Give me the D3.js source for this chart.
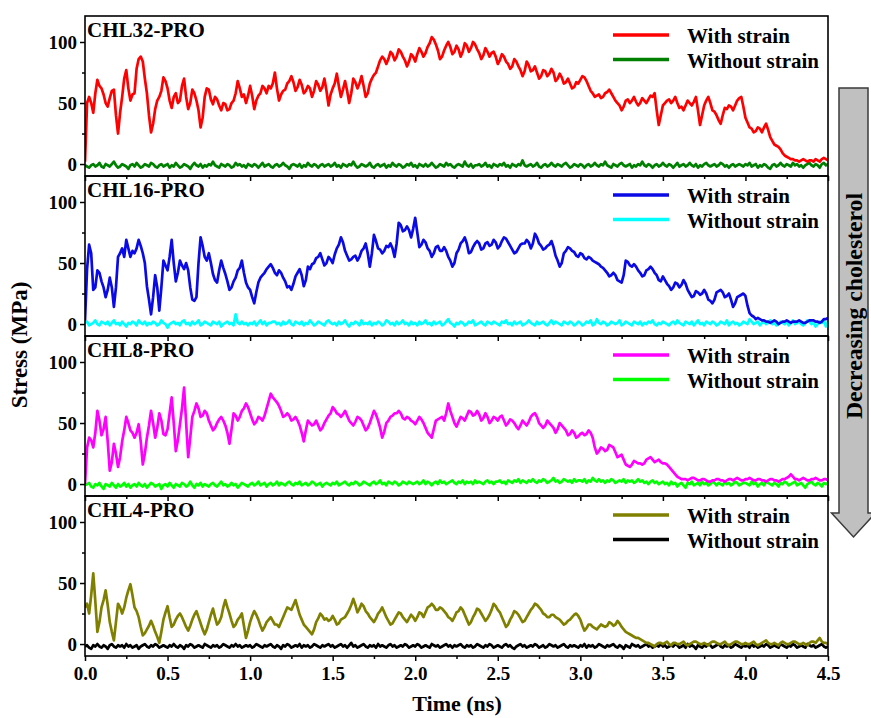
<!DOCTYPE html>
<html>
<head>
<meta charset="utf-8">
<script src="https://cdn.jsdelivr.net/npm/d3@7"></script>
<style>
  body { margin: 0; background: #fff; }
  svg text { font-family: "Times New Roman", "Liberation Serif", serif; font-weight: bold; fill: #000; }
</style>
</head>
<body>
<svg id="chart" width="871" height="718"></svg>
<script>
// Every trace is sampled evenly from 0 to 4.5 ns (0.0125 ns apart)
const timeEnd = 4.5;
const xMajorTicks = [0, 0.5, 1.0, 1.5, 2.0, 2.5, 3.0, 3.5, 4.0, 4.5];
const xMinorTicks = [0.25, 0.75, 1.25, 1.75, 2.25, 2.75, 3.25, 3.75, 4.25];
const yMajorTicks = [0, 50, 100];
const yMinorTicks = [25, 75];

const systems = ["CHL32-PRO", "CHL16-PRO", "CHL8-PRO", "CHL4-PRO"];
const seriesNames = ["With strain", "Without strain"];
const withColors = ["#ff0000", "#0a0ae6", "#ff00ff", "#808000"];
const withoutColors = ["#008000", "#00ffff", "#00ff00", "#000000"];

// Stress (MPa) with applied strain
const chl32With = [
  2,50,55,50,42,58,69,64,62,57,50,47,54,60,61,40,25,42,55,70,77,62,52,57,58,78,86,88,84,70,58,40,26,33,45,52,55,60,71,68,
  62,52,46,55,58,50,52,64,70,55,45,50,61,58,52,44,30,38,55,62,61,53,49,55,53,48,44,50,49,44,45,50,52,58,68,62,55,57,50,56,
  64,56,45,52,56,58,64,62,58,64,62,66,75,62,52,57,60,61,66,68,72,67,60,63,69,65,58,60,64,62,55,60,68,65,60,63,70,60,48,57,
  62,66,74,64,55,61,68,60,50,58,70,67,62,66,72,64,55,58,66,70,73,75,80,85,88,86,82,86,92,90,85,88,94,92,88,85,80,84,90,88,
  84,90,95,92,88,91,96,99,104,102,98,93,86,88,93,97,100,96,90,92,97,94,88,92,99,97,92,95,100,98,94,91,86,89,95,92,88,91,92,88,
  82,85,90,88,84,82,78,80,86,84,80,77,72,76,84,81,76,77,80,75,70,72,77,76,72,74,78,75,68,70,74,71,66,67,70,66,62,63,67,66,
  69,72,71,68,64,60,58,55,56,57,54,55,58,59,61,58,55,52,50,48,44,47,52,53,50,52,55,51,48,50,54,52,50,53,56,55,58,44,32,40,
  48,50,52,53,50,52,55,50,46,47,44,48,52,50,48,51,55,44,32,40,48,52,55,50,44,43,40,36,33,40,46,45,48,47,44,48,52,54,55,47,
  38,34,30,29,26,27,30,29,26,30,33,28,22,19,16,15,14,12,9,7,6,5,4,4,3,3,2,3,4,3,2,3,3,2,4,3,2,4,5,4,3
];
const chl16With = [
  3,45,65,58,28,30,44,42,35,30,22,28,38,30,14,30,55,58,62,55,69,62,55,60,58,62,69,64,58,50,31,20,8,22,40,30,11,30,52,48,
  44,55,69,50,35,42,52,48,45,50,44,30,20,19,22,50,71,64,55,52,58,50,41,36,34,44,52,46,41,35,28,30,35,38,44,46,52,42,34,30,
  28,22,17,26,34,38,40,42,45,47,49,46,42,40,44,42,38,35,30,31,28,33,39,42,45,40,31,36,47,45,49,50,54,55,58,53,48,50,55,53,
  50,57,62,65,71,67,60,56,52,53,55,56,52,55,60,62,66,58,47,58,73,68,62,61,58,60,64,63,66,62,55,66,83,81,76,77,80,77,71,78,
  87,75,63,65,69,67,62,60,55,58,63,64,60,60,63,60,55,52,47,50,58,61,66,68,71,66,58,59,63,66,68,66,61,62,66,67,64,65,69,67,
  62,64,68,71,70,67,64,61,58,59,62,65,66,66,69,67,62,66,74,71,66,64,61,62,64,65,68,63,56,52,47,50,58,60,63,62,60,59,56,55,
  58,57,54,53,55,54,52,51,50,49,47,46,44,42,39,40,42,40,36,35,34,40,52,51,48,47,49,47,44,42,39,40,44,45,47,45,42,40,36,35,
  39,36,33,31,28,30,34,33,30,32,36,33,28,25,22,23,27,26,24,25,28,25,20,19,17,20,26,27,28,26,22,23,25,20,14,17,22,23,24,25,
  23,15,9,7,6,4,5,4,3,3,2,2,1,2,3,2,0,1,2,2,3,2,1,2,2,2,3,2,1,1,2,3,3,3,2,2,1,2,4,4,5
];
const chl8With = [
  0,30,38,36,30,42,60,52,40,45,55,35,11,18,33,25,14,22,35,44,55,50,44,42,38,42,49,35,16,25,38,48,60,50,38,46,58,52,41,40,
  45,58,71,50,27,36,49,62,79,50,22,38,55,60,66,62,55,56,60,58,52,48,44,46,50,53,55,52,48,42,33,45,58,56,52,55,60,62,66,63,
  58,53,49,51,55,54,52,56,62,68,74,71,69,67,64,60,55,56,58,56,52,53,55,52,48,42,35,44,52,50,48,49,52,48,44,46,50,53,56,58,
  63,61,58,57,55,57,60,56,52,50,48,51,55,54,52,48,44,46,50,55,60,57,52,46,38,43,50,52,55,56,58,58,60,58,54,53,55,54,52,51,
  49,52,55,53,50,46,42,40,38,45,52,53,54,55,52,58,66,60,55,50,47,51,55,54,52,56,60,59,56,57,60,57,52,54,58,55,50,52,55,54,
  52,55,56,52,48,50,53,52,50,47,45,48,52,50,48,51,55,57,58,55,50,48,46,48,52,50,48,46,42,45,50,48,46,44,40,41,44,42,38,39,
  41,42,40,41,44,42,38,30,25,27,30,29,27,28,32,31,30,26,22,23,24,20,16,15,14,16,19,18,17,17,16,17,20,21,22,20,18,19,20,18,
  17,17,16,14,12,10,8,6,5,4,4,4,3,4,5,5,4,3,3,4,4,3,2,2,3,3,4,4,3,3,2,3,4,4,3,4,5,4,3,3,
  4,4,5,4,3,3,4,4,3,3,2,3,4,4,3,3,2,3,4,4,5,6,8,6,4,4,3,4,5,4,3,3,4,4,5,4,3,3,4,4,3
];
const chl4With = [
  30,33,25,40,58,35,10,18,30,36,44,32,18,10,3,18,33,30,25,30,38,44,49,40,30,27,22,14,7,9,12,15,19,15,10,6,1,10,20,26,
  31,22,14,16,20,23,25,22,18,14,11,15,20,24,27,22,17,12,8,12,18,24,29,22,16,18,22,30,36,30,25,19,14,16,20,22,25,15,5,11,
  18,23,27,24,20,15,11,14,18,20,22,19,16,16,14,18,22,26,30,29,28,32,36,30,24,20,16,14,12,10,8,12,18,21,25,23,20,21,19,20,
  23,20,16,17,20,21,22,25,28,32,37,32,26,29,33,31,27,25,22,20,18,21,25,27,30,26,22,19,16,17,20,23,26,25,22,20,18,21,24,22,
  19,22,26,25,22,26,30,31,33,31,28,28,30,29,27,25,22,21,19,22,26,27,30,28,24,20,16,18,22,25,29,28,25,22,19,21,24,28,33,31,
  28,26,22,18,14,16,20,23,27,26,24,21,18,19,22,25,28,30,33,32,30,28,25,24,22,22,24,24,22,21,20,18,16,17,19,20,22,24,25,23,
  20,15,11,13,16,16,14,13,12,14,16,15,14,15,18,17,15,16,19,17,14,12,10,9,8,7,6,5,5,4,3,2,1,1,0,-1,-2,0,1,1,
  0,1,2,0,-1,1,1,0,0,1,2,0,-1,0,1,2,2,1,0,0,1,0,-1,1,2,2,1,0,0,1,2,0,-1,0,1,2,2,1,0,0,
  1,0,0,1,2,0,-1,0,1,2,3,1,0,0,1,0,-1,1,2,1,0,0,1,2,2,1,0,0,1,0,-1,1,2,2,1,3,5,2,1,1,0
];

// Stress (MPa) without strain
const chl32Without = [
  -1,-2,-3,-1,0,-2,-1,1,-2,-3,0,-1,-2,0,2,-1,-3,-2,0,-1,-2,-4,-1,0,-2,1,-1,-3,-2,0,-1,-2,1,0,-2,-3,-1,0,-2,-1,
  0,-3,-1,-2,1,-1,-3,-2,0,-1,-2,-4,-1,1,-1,-2,0,-3,-1,-2,0,-1,2,-1,-2,-3,0,-1,-2,0,-1,-3,-2,1,-1,0,-2,-1,-3,0,
  -1,-2,0,-1,-3,-1,1,-2,-1,0,-2,-3,-1,0,-2,-1,1,-1,-2,-4,-1,0,-1,-2,0,-3,-1,-2,1,-1,-2,0,-1,-3,-1,0,-2,-1,0,-2,
  -1,1,-2,-1,-3,0,-1,-2,0,-1,2,-1,-3,-2,0,-1,-2,-1,1,-2,-3,-1,0,-2,-1,0,-3,-1,-2,1,-1,-2,0,-1,-3,-2,0,-1,1,-2,
  -1,-3,0,-1,-2,0,-2,-1,1,-1,-3,-2,0,-1,-2,1,-1,0,-2,-3,-1,0,-1,-2,2,-1,-2,0,-3,-1,-1,0,-2,-1,1,-2,-1,-3,0,-1,
  -2,0,-1,1,-2,-1,-3,0,-1,-2,0,-1,3,-1,-2,-1,0,-2,-1,1,-2,-3,-1,0,-2,-1,1,-1,-2,0,-1,-2,0,1,-1,-3,-2,0,-1,-2,
  0,-1,-3,-1,0,-2,-1,1,-1,-2,0,-1,2,-1,-2,-3,0,-1,-2,0,1,-1,-2,-1,0,-3,-1,-2,0,-1,2,-1,-2,0,-1,-3,-1,0,-2,-1,
  1,-1,-2,0,-1,-3,-1,1,-2,-1,0,-2,-1,1,-1,-2,0,-3,-1,-2,0,1,-1,-2,-1,0,-2,-1,1,0,-2,-1,-3,-1,0,-2,-1,0,-1,-2,
  0,-1,1,-2,-1,0,-3,-1,-2,0,-1,-3,-4,-1,0,-2,-1,1,-1,-2,0,-1,-2,1,-1,0,-2,-1,-3,-1,0,1,-1,-2,0,-1,-3,0,1,-1,0
];
const chl16Without = [
  1,2,-1,0,1,3,0,-1,2,1,0,2,-1,1,3,0,1,-1,2,0,-2,1,0,2,1,-1,3,1,0,2,-1,1,0,2,1,-1,0,3,1,0,
  -3,0,1,2,0,1,-1,2,3,0,1,-1,2,0,1,3,-1,0,2,1,0,-1,2,1,0,2,-2,0,1,2,0,1,-1,8,1,0,2,0,1,-1,
  1,0,2,-1,1,3,0,2,-1,1,1,2,2,0,1,-1,2,0,1,3,0,-1,2,1,0,2,-1,1,0,3,1,-1,0,2,1,0,-1,2,3,1,
  0,1,-1,2,0,1,3,0,-2,1,0,2,1,-1,3,0,1,0,2,-1,1,0,2,1,-1,0,3,2,0,1,-1,2,0,1,3,0,1,-1,2,0,
  1,-1,2,0,1,3,0,1,-1,2,0,1,2,-1,0,2,4,1,0,-2,1,0,2,1,-1,0,2,1,3,-1,0,1,2,0,-1,2,1,0,2,1,
  0,-1,2,1,3,0,1,-1,2,0,1,2,-1,0,1,3,1,0,-1,2,0,1,2,0,-1,1,3,0,2,1,0,-1,2,1,0,2,1,-1,0,2,
  1,-1,0,2,1,3,-1,0,4,1,0,2,1,-1,0,2,1,0,1,3,-1,0,2,1,0,-1,2,1,0,2,-1,1,0,2,1,3,0,-1,1,0,
  2,1,0,-1,1,2,0,3,1,0,-1,2,1,0,2,-1,1,3,0,1,-1,2,1,0,2,1,-1,0,2,1,0,3,-1,1,2,0,1,-1,0,2,
  1,0,4,2,0,1,2,-1,1,2,0,1,3,0,1,-1,0,2,1,0,2,-1,1,3,0,1,2,0,-1,1,3,2,0,1,-2,0,2,1,3,-2,2
];
const chl8Without = [
  -1,0,1,-2,-3,0,-1,1,-2,-4,0,-1,-2,1,-1,-3,0,-2,-1,1,-2,0,-3,-1,0,-2,1,-1,-2,0,-3,-1,1,0,-2,-1,0,-4,-1,0,
  -2,1,-1,-3,0,-1,-2,1,0,-2,-1,2,-1,-3,0,-1,1,-2,0,-1,-2,0,1,-1,-2,0,2,-1,0,-2,-1,1,-1,0,-3,-1,1,0,-1,-2,
  0,1,-1,0,2,-1,0,1,-2,0,1,-1,0,2,-1,1,0,-1,1,2,0,-1,1,0,2,-1,0,1,-1,0,2,1,-1,0,1,-2,0,1,0,-1,
  1,0,2,-1,0,1,2,0,-1,1,0,2,1,-1,0,2,1,0,-1,1,2,0,1,3,0,1,-1,2,1,0,2,1,-1,0,2,1,0,2,1,0,
  1,2,0,1,3,0,2,1,-1,1,2,0,3,1,2,0,1,2,3,1,0,2,1,3,0,2,1,2,0,3,1,2,1,0,2,3,1,2,0,2,
  2,3,1,2,0,3,2,1,3,2,4,1,3,2,1,3,2,4,2,1,3,2,4,3,1,2,3,5,2,3,1,2,4,3,2,3,1,4,2,3,
  3,2,4,1,3,2,5,3,2,4,2,3,1,3,2,4,3,1,2,3,2,4,1,3,2,3,1,2,4,2,3,1,2,0,2,3,1,2,0,1,
  2,0,1,-1,2,0,1,-2,0,1,-1,-3,1,0,2,-1,0,1,-1,2,0,1,-1,0,2,1,-1,1,0,-1,2,0,1,-1,0,2,1,-1,0,1,
  1,0,-1,2,0,1,-2,0,1,-1,2,1,0,-1,1,0,-2,1,0,2,1,-1,0,1,2,-1,0,1,-1,-3,0,1,2,0,-1,1,0,-2,1,0,1
];
const chl4Without = [
  -2,-1,-3,-4,-1,-2,0,-2,-3,-1,-2,-4,-1,0,-2,-3,-1,-2,-1,-3,0,-2,-1,-3,-2,-1,-4,-2,-1,0,-2,-3,-1,-2,0,-1,-3,-2,-1,-2,
  -3,-1,-2,0,-2,-3,-1,-2,-4,-1,-2,0,-1,-3,-2,-1,-2,-3,0,-1,-2,-3,-1,-2,-1,-3,-2,0,-1,-2,-3,-1,-2,0,-2,-1,-3,-2,-1,-2,
  -1,-3,-2,0,-1,-2,-3,-1,-2,-1,0,-2,-3,-1,-2,-4,-1,-2,0,-1,-3,-2,-1,-2,0,-3,-1,-2,-1,-3,-2,0,-1,-2,-3,-1,-2,-1,0,-2,
  -1,-3,-2,-1,0,-2,-1,-3,-1,1,-2,-1,-3,-2,-1,0,-2,-3,-1,-2,-1,-3,0,-2,-1,-2,-3,-1,0,-2,-1,-3,-2,-1,-2,0,-1,-3,-2,-1,
  -2,0,-1,-3,-2,-1,-2,-3,0,-1,-2,-1,-3,-2,-1,0,-2,-1,-3,-1,-2,-1,0,-2,-3,-1,-2,-1,-3,-2,0,-1,-2,-3,-1,-2,0,-1,-3,-2,
  -1,-2,-3,-1,0,-2,-1,-3,-4,-2,-1,0,-2,-1,-3,-2,-1,-2,0,-1,-3,-2,-1,-3,-2,0,-1,-2,-1,-3,-2,-1,0,-2,-3,-1,-2,-1,-2,-3,
  -1,-2,0,-3,-1,-2,-1,-3,-2,0,-1,-2,-3,-1,-2,-1,0,-2,-3,-1,-2,-4,-1,-2,-3,0,-1,-2,-1,-3,-2,-1,0,-2,-1,-3,-2,-1,-2,0,
  -2,-1,-3,-2,-1,-2,0,-1,-3,-2,-1,-3,0,-2,-1,-2,-4,-1,-2,-3,-1,-2,0,-1,-3,-2,-1,0,-2,-3,-1,-2,-1,-3,-2,0,-1,-2,-3,-1,
  -2,-1,-3,0,-2,-1,-3,-2,-1,-2,0,-1,-3,-2,-1,-2,-3,0,-1,-2,-3,-1,-2,0,-1,-3,-2,-1,-2,-3,0,-1,-2,-1,-3,-2,-1,0,-2,-3,-2
];

const withStrain = [chl32With, chl16With, chl8With, chl4With];
const withoutStrain = [chl32Without, chl16Without, chl8Without, chl4Without];

const svg = d3.select("#chart");
const left = 85, right = 828, top0 = 16, panelH = 160;

const x = d3.scaleLinear().domain([0, timeEnd]).range([left, right]);
const y = d3.scaleLinear().domain([-9.8, 121.3]).range([panelH, 0]);

// samples are spread evenly over 0..timeEnd
const traceLine = values => d3.line()
  .x((d, i) => x(i * timeEnd / (values.length - 1)))
  .y(d => y(d))(values);

systems.forEach((name, p) => {
  const g = svg.append("g").attr("transform", `translate(0,${top0 + p * panelH})`);

  g.append("clipPath").attr("id", "clip" + p)
    .append("rect").attr("x", left).attr("y", 0)
    .attr("width", right - left).attr("height", panelH);

  const plot = g.append("g").attr("clip-path", `url(#clip${p})`);
  plot.append("path").attr("d", traceLine(withoutStrain[p])).attr("fill", "none")
    .attr("stroke", withoutColors[p]).attr("stroke-width", 2.7)
    .attr("stroke-linejoin", "round");
  plot.append("path").attr("d", traceLine(withStrain[p])).attr("fill", "none")
    .attr("stroke", withColors[p]).attr("stroke-width", 2.7)
    .attr("stroke-linejoin", "round");

  // y axis: labelled major ticks, short minor ticks
  const yMaj = g.append("g").attr("transform", `translate(${left},0)`)
    .call(d3.axisLeft(y).tickValues(yMajorTicks).tickSize(5).tickPadding(3));
  const yMin = g.append("g").attr("transform", `translate(${left},0)`)
    .call(d3.axisLeft(y).tickValues(yMinorTicks).tickSize(3).tickFormat(""));
  [yMaj, yMin].forEach(a => {
    a.select(".domain").remove();
    a.selectAll("line").attr("stroke", "#000").attr("stroke-width", 1.5);
  });
  yMaj.selectAll("text").style("font-size", "19px").attr("font-family", null);

  // x axis ticks under every panel, labels only on the last
  const last = p === systems.length - 1;
  const xMaj = g.append("g").attr("transform", `translate(0,${panelH})`)
    .call(d3.axisBottom(x).tickValues(xMajorTicks).tickSize(5).tickPadding(6)
      .tickFormat(last ? d3.format(".1f") : ""));
  const xMin = g.append("g").attr("transform", `translate(0,${panelH})`)
    .call(d3.axisBottom(x).tickValues(xMinorTicks).tickSize(3).tickFormat(""));
  [xMaj, xMin].forEach(a => {
    a.select(".domain").remove();
    a.selectAll("line").attr("stroke", "#000").attr("stroke-width", 1.5);
  });
  xMaj.selectAll("text").style("font-size", "19px").attr("font-family", null);

  // panel frame
  g.append("rect").attr("x", left).attr("y", 0)
    .attr("width", right - left).attr("height", panelH)
    .attr("fill", "none").attr("stroke", "#000").attr("stroke-width", 1.6);

  // system name
  g.append("text").attr("x", left + 2).attr("y", 21)
    .style("font-size", "21px").text(name);

  // legend
  const legendColors = [withColors[p], withoutColors[p]];
  seriesNames.forEach((s, k) => {
    g.append("line").attr("x1", 613).attr("x2", 669)
      .attr("y1", 19 + k * 24.5).attr("y2", 19 + k * 24.5)
      .attr("stroke", legendColors[k]).attr("stroke-width", 3.5);
    g.append("text").attr("x", 687).attr("y", 27 + k * 25)
      .style("font-size", "21px").text(s);
  });
});

// axis titles
svg.append("text").attr("x", (left + right) / 2 + 0.5).attr("y", 711)
  .attr("text-anchor", "middle").style("font-size", "22px").text("Time (ns)");
svg.append("text")
  .attr("transform", "translate(27,345) rotate(-90)")
  .attr("text-anchor", "middle").style("font-size", "23px").text("Stress (MPa)");

// arrow on the right
const ax0 = 839, ax1 = 868, aTop = 88, aNeck = 513, aTip = 537;
const axc = (ax0 + ax1) / 2;
svg.append("path")
  .attr("d", `M${ax0},${aTop}H${ax1}V${aNeck}H${axc + 22}L${axc},${aTip}L${axc - 22},${aNeck}H${ax0}Z`)
  .attr("fill", "#c0c0c0").attr("stroke", "#3a3a3a").attr("stroke-width", 1.5);
svg.append("text")
  .attr("transform", `translate(${axc + 8},306) rotate(-90)`)
  .attr("text-anchor", "middle").style("font-size", "23px")
  .attr("textLength", 226).attr("lengthAdjust", "spacingAndGlyphs")
  .text("Decreasing cholesterol");
</script>
</body>
</html>
